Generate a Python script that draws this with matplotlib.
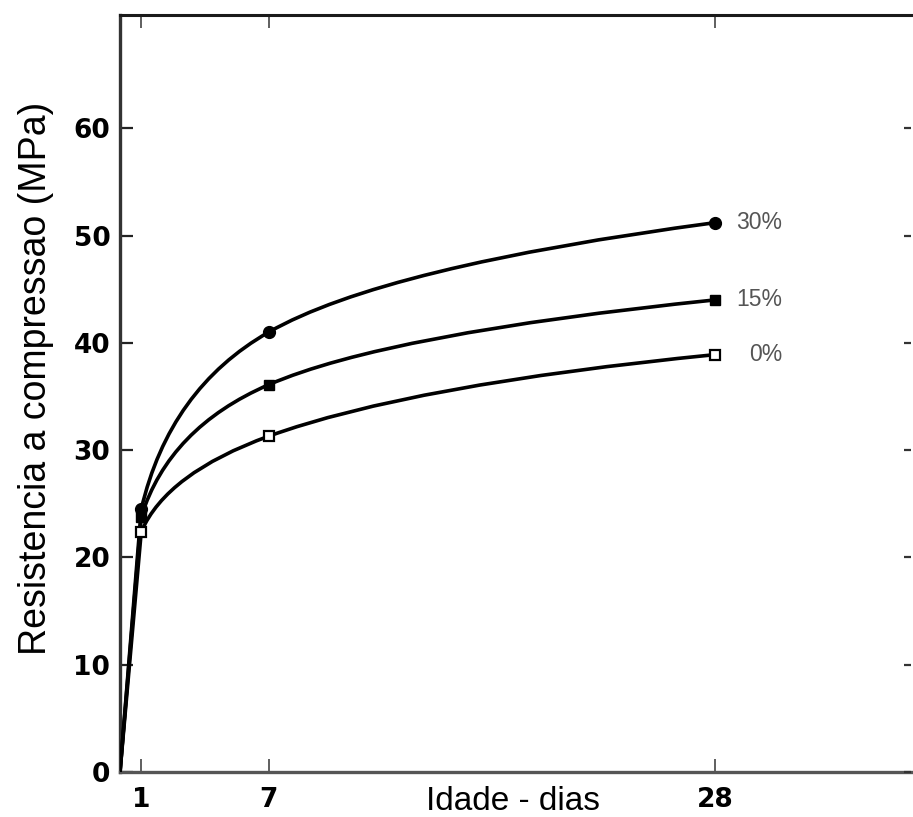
import numpy as np
import matplotlib
matplotlib.use("Agg")
import matplotlib.pyplot as plt
from matplotlib.path import Path
from matplotlib.patches import PathPatch

# ---- data ----
ages = [0, 1, 7, 28]
series_labels = ["30%", "15%", "0%"]
strength_30 = [0, 24.5, 41.0, 51.2]
strength_15 = [0, 23.8, 36.1, 44.0]
strength_0 = [0, 22.4, 31.3, 38.9]
x_ticks = [1, 7, 28]
y_ticks = [0, 10, 20, 30, 40, 50, 60]
x_label = "Idade - dias"
y_label = "Resistencia a compressao (MPa)"


def smooth_path(x, y):
    """Straight rise from the origin to day 1, then quadratic Bezier arcs whose
    control points sit at the crossing of the end tangents (tangents taken
    from the slopes of strength against log(age))."""
    x = np.asarray(x, float)
    y = np.asarray(y, float)
    xs, ys = x[1:], y[1:]
    b = np.diff(ys) / np.diff(np.log(xs))          # slope per log-day
    bt = np.empty(len(xs))
    bt[0], bt[-1] = b[0], b[-1]
    bt[1:-1] = 0.5 * (b[:-1] + b[1:])
    m = bt / xs                                     # dy/dx at each point
    verts = [(x[0], y[0]), (xs[0], ys[0])]
    codes = [Path.MOVETO, Path.LINETO]
    for i in range(len(xs) - 1):
        x0, y0, x1, y1 = xs[i], ys[i], xs[i + 1], ys[i + 1]
        cx = (y1 - y0 + m[i] * x0 - m[i + 1] * x1) / (m[i] - m[i + 1])
        cy = y0 + m[i] * (cx - x0)
        verts += [(cx, cy), (x1, y1)]
        codes += [Path.CURVE3, Path.CURVE3]
    return Path(verts, codes)


fig = plt.figure(figsize=(9.13, 8.17), dpi=100)
ax = fig.add_axes([120 / 913, 45 / 817, 791 / 913, 757 / 817])
ax.set_xlim(0, 791 / 21.26)
ax.set_ylim(0, 757 / 10.73)

series = [strength_30, strength_15, strength_0]
markers = [dict(marker="o", mfc="black", mec="black", ms=8.5),
           dict(marker="s", mfc="black", mec="black", ms=7),
           dict(marker="s", mfc="white", mec="black", ms=7, mew=1.6)]

for vals in series:
    patch = PathPatch(smooth_path(ages, vals), facecolor="none",
                      edgecolor="black", lw=2.6, capstyle="round",
                      joinstyle="round", zorder=3)
    ax.add_patch(patch)

for vals, mk, lab in zip(series, markers, series_labels):
    ax.plot(ages[1:], vals[1:], ls="none", zorder=4, **mk)
    ax.annotate(lab, (ages[-1], vals[-1]), xytext=(48, 0),
                textcoords="offset points", ha="right", va="center",
                fontsize=16.5, color="#555555", family="Liberation Sans")

ax.set_xticks(x_ticks)
ax.set_yticks(y_ticks)
ax.set_xticklabels([str(v) for v in x_ticks], fontsize=19, fontweight="bold",
                   family="DejaVu Sans")
ax.set_yticklabels([str(v) for v in y_ticks], fontsize=19, fontweight="bold",
                   family="DejaVu Sans")
ax.tick_params(axis="x", direction="in", length=9.5, width=1.2, color="#444444",
               top=True, pad=11)
ax.tick_params(axis="y", direction="in", length=9.5, width=1.6, color="#222222",
               pad=7)

# short inward ticks on the (cut-off) right edge
ax2 = ax.twinx()
ax2.set_ylim(ax.get_ylim())
ax2.set_yticks(y_ticks)
ax2.set_yticklabels([])
ax2.tick_params(axis="y", direction="in", length=5, width=1.6, color="#333333")
for s in ax2.spines.values():
    s.set_visible(False)

ax.spines["right"].set_visible(False)
ax.spines["left"].set_linewidth(2.4)
ax.spines["left"].set_color("#333333")
ax.spines["top"].set_linewidth(2.2)
ax.spines["top"].set_color("#1a1a1a")
ax.spines["bottom"].set_linewidth(2.4)
ax.spines["bottom"].set_color("#555555")

ax.set_xlabel(x_label, fontsize=24, family="Liberation Sans", va="baseline")
ax.xaxis.set_label_coords((513 - 120) / 791, -(810 - 772) / 757)
fig.text(36 / 913, 1 - 378 / 817, y_label, rotation=90, ha="center",
         va="center", fontsize=27, family="Liberation Sans")

fig.savefig("out.png", dpi=100)
